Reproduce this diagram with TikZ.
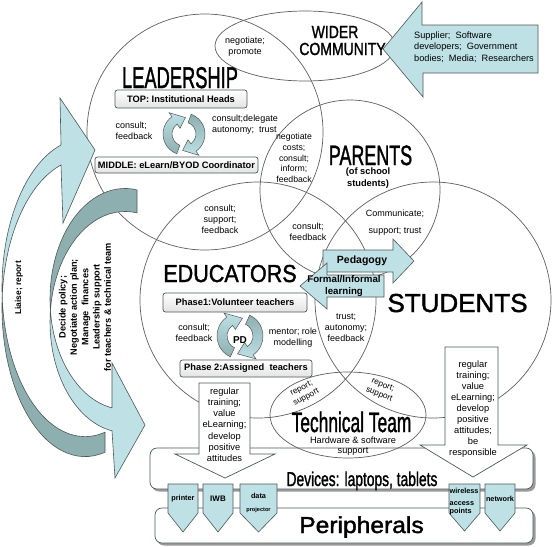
\documentclass[tikz,border=0pt]{standalone}
\usepackage{fontspec}
\setmainfont{Liberation Sans}
\newfontfamily\titlefont[FakeBold=1.6]{Liberation Sans}
\usepackage{graphicx}
\definecolor{tealL}{HTML}{BDE1E5}
\definecolor{tealD}{HTML}{8EAFB0}
\definecolor{edge}{HTML}{4F5859}
\definecolor{ringc}{HTML}{5F5F5F}
\definecolor{shadowc}{HTML}{9A9A9A}
\tikzset{
  ring/.style={draw=ringc, line width=0.7pt},
  blockL/.style={fill=tealL, draw=edge, line width=0.6pt},
  blockD/.style={fill=tealD, draw=edge, line width=0.6pt},
  whitearrow/.style={fill=white, draw=edge, line width=0.7pt},
  shelf/.style={fill=white, draw=edge, line width=0.7pt, rounded corners=7pt},
  cyc/.style={draw=edge, line width=0.5pt},
  tab/.style={fill=tealL, draw=edge, line width=0.6pt},
  tagbox/.style={draw=edge, line width=0.7pt, rounded corners=2.5pt, top color=white,
    bottom color=gray!22, inner sep=0pt, font=\bfseries\fontsize{9.3}{11}\selectfont},
  note/.style={inner sep=0pt, align=center, font=\fontsize{9}{11}\selectfont},
  boldnote/.style={inner sep=0pt, align=center, font=\bfseries\fontsize{9.3}{11.5}\selectfont},
  tabtext/.style={inner sep=0pt, align=left, font=\bfseries\fontsize{7.3}{8.5}\selectfont},
  title/.style={inner sep=0pt, anchor=base}
}
\begin{document}
\begin{tikzpicture}[x=1pt,y=-1pt]
  \useasboundingbox (0,0) rectangle (553,546);
  \fill[white] (0,0) rectangle (553,546);

  % shelves for devices and peripherals
  \fill[shadowc, rounded corners=7pt] (152,450.5) rectangle (535.5,491.5);
  \filldraw[shelf] (150,448) rectangle (533,489);
  \fill[shadowc, rounded corners=7pt] (157,510.5) rectangle (535.5,545.5);
  \filldraw[shelf] (155,508) rectangle (533,543);

  % stakeholder circles
  \draw[ring] (205,132) circle (118);
  \draw[ring] (350,190) circle (90);
  \draw[ring] (258,300) circle (118);
  \draw[ring] (433,300) circle (118);
  \draw[ring] (305,46) ellipse (90 and 35);
  \draw[ring] (348,415) ellipse (78 and 43);

  % outside partners
  \filldraw[blockL] (538,25) -- (422,25) -- (422,2) -- (383,49) -- (423,97) -- (423,73) -- (538,73) -- cycle;

  % curved arrows at the left
  \filldraw[blockD] (2.2,297.6) arc[start angle=176.15, end angle=76.05, x radius=83, y radius=149]
    -- (105,452.2) arc[start angle=76.05, end angle=183.85, x radius=83, y radius=149] -- cycle;
  \filldraw[blockL] (2.2,297.6) arc[start angle=176.15, end angle=253.2, x radius=83, y radius=149]
    -- (60,98) -- (95,150) -- (63,223) -- (61,165)
    arc[start angle=253.2, end angle=183.85, x radius=83, y radius=149] -- cycle;
  \filldraw[blockD] (137,189.9) arc[start angle=279.2, end angle=174.03, x radius=75, y radius=110.5]
    arc[start angle=185.97, end angle=279.2, x radius=75, y radius=110.5] -- cycle;
  \filldraw[blockL] (50.4,310.5) arc[start angle=174.03, end angle=100, x radius=75, y radius=110.5]
    -- (112,363) -- (145,425) -- (115,478) -- (112,430.8)
    arc[start angle=100, end angle=185.97, x radius=75, y radius=110.5] -- cycle;

  % role boxes
  \node[tagbox, minimum width=132, minimum height=18] (topbox) at (181,99) {TOP: Institutional\ Heads};
  \node[tagbox, minimum width=163, minimum height=16] (midbox) at (176.5,165) {MIDDLE: eLearn/BYOD Coordinator};
  \node[tagbox, minimum width=144, minimum height=19] (phaseone) at (235,302.5) {Phase1:Volunteer teachers};
  \node[tagbox, minimum width=132, minimum height=17] (phasetwo) at (246,368.5) {Phase 2:Assigned\ \ teachers};

  % cycle between top and middle
  \begin{scope}[shift={(184,134)}]
    \shadedraw[cyc, top color=tealL, bottom color=tealD] (110:21) arc[start angle=110, end angle=235, radius=21]
      -- (235:26) -- (275:16.5) -- (235:7) -- (235:12) arc[start angle=235, end angle=110, radius=12] -- cycle;
    \shadedraw[cyc, top color=tealD, bottom color=tealL] (290:21) arc[start angle=290, end angle=415, radius=21]
      -- (415:26) -- (455:16.5) -- (415:7) -- (415:12) arc[start angle=415, end angle=290, radius=12] -- cycle;
  \end{scope}
  % cycle between phase 1 and phase 2
  \begin{scope}[shift={(240,336)}]
    \shadedraw[cyc, top color=tealL, bottom color=tealD] (115:23) arc[start angle=115, end angle=235, radius=23]
      -- (235:28) -- (278:18) -- (235:8) -- (235:13) arc[start angle=235, end angle=115, radius=13] -- cycle;
    \shadedraw[cyc, top color=tealD, bottom color=tealL] (295:23) arc[start angle=295, end angle=415, radius=23]
      -- (415:28) -- (458:18) -- (415:8) -- (415:13) arc[start angle=415, end angle=295, radius=13] -- cycle;
  \end{scope}

  % pedagogy arrows
  \filldraw[blockL] (323,250) -- (393,250) -- (393,239) -- (414,261) -- (393,283) -- (393,272) -- (323,272) -- cycle;
  \filldraw[blockL] (384,275) -- (327,275) -- (327,263) -- (300,286) -- (327,309) -- (327,297) -- (384,297) -- cycle;

  % arrows down to the devices
  \filldraw[whitearrow] (199,383) -- (250,383) -- (250,454) -- (275,454) -- (225,478) -- (175,454) -- (199,454) -- cycle;
  \filldraw[whitearrow] (445,347) -- (498,347) -- (498,445) -- (527,445) -- (473,477) -- (420,445) -- (445,445) -- cycle;

  % peripheral tabs
  \filldraw[tab] (168,484) -- (198,484) -- (198,513) -- (183,532) -- (168,513) -- cycle;
  \filldraw[tab] (203,484) -- (233,484) -- (233,513) -- (218,532) -- (203,513) -- cycle;
  \filldraw[tab] (240,484) -- (277,484) -- (277,513) -- (258.5,532) -- (240,513) -- cycle;
  \filldraw[tab] (449,484) -- (480,484) -- (480,513) -- (464.5,531) -- (449,513) -- cycle;
  \filldraw[tab] (485,484) -- (515,484) -- (515,513) -- (500,531) -- (485,513) -- cycle;

  % titles
  \node[title, font=\titlefont\fontsize{30}{30}\selectfont] (lead) at (180,88) {\scalebox{0.61}[1]{LEADERSHIP}};
  \node[title, font=\titlefont\fontsize{17.5}{17.5}\selectfont] (wider) at (335,38) {\scalebox{0.8}[1]{WIDER}};
  \node[title, font=\titlefont\fontsize{17.5}{17.5}\selectfont] (community) at (342.5,55) {\scalebox{0.8}[1]{COMMUNITY}};
  \node[title, font=\titlefont\fontsize{28}{28}\selectfont] (parents) at (370.5,165) {\scalebox{0.64}[1]{PARENTS}};
  \node[title, font=\titlefont\fontsize{24.5}{24.5}\selectfont] (educ) at (230,282) {\scalebox{0.88}[1]{EDUCATORS}};
  \node[title, font=\titlefont\fontsize{26}{26}\selectfont] (stud) at (457.5,312) {STUDENTS};
  \node[title, font=\titlefont\fontsize{28}{28}\selectfont] (tech) at (351.5,432) {\scalebox{0.62}[1]{Technical Team}};
  \node[title, font=\titlefont\fontsize{20}{20}\selectfont] (devices) at (362,486) {\scalebox{0.69}[1]{Devices: laptops, tablets}};
  \node[title, font=\titlefont\fontsize{23}{23}\selectfont] (periph) at (361.5,533) {\scalebox{1.07}[1]{Peripherals}};

  % relation labels
  \node[note] (promote) at (245,47) {negotiate;\\promote};
  \node[note, anchor=west, align=left, font=\fontsize{9.2}{11.5}\selectfont] (partners) at (414,47)
    {Supplier;\ \ Software\\developers;\ \ Government\\bodies;\ \ Media;\ \ Researchers};
  \node[note, align=left] (leadfb) at (134,131) {consult;\\feedback};
  \node[note, align=left] (delegate) at (245,125) {consult;delegate\\autonomy;\ \ trust};
  \node[note, font=\fontsize{8.7}{10.6}\selectfont] (costs) at (294,158) {negotiate\\costs;\\consult;\\inform;\\feedback};
  \node[boldnote] (school) at (368,178) {(of school\\students)};
  \node[note] (edsupport) at (220,219) {consult;\\support;\\feedback};
  \node[note] (edparents) at (308,232) {consult;\\feedback};
  \node[note] (communicate) at (395,223) {Communicate;\\[6pt]support;\ trust};
  \node[boldnote, font=\bfseries\fontsize{10.5}{12}\selectfont] (pedagogy) at (362,261) {Pedagogy};
  \node[boldnote, font=\bfseries\fontsize{9.7}{12}\selectfont] (formal) at (344,286) {Formal/Informal\\learning};
  \node[note] (pdfb) at (194,333) {consult;\\feedback};
  \node[boldnote, font=\bfseries\fontsize{10}{12}\selectfont] (pd) at (240,340) {PD};
  \node[note] (mentor) at (293,338) {mentor;\ role\\modelling};
  \node[note] (autonomy) at (346,328) {trust;\\autonomy;\\feedback};
  \node[note, font=\fontsize{8.3}{10}\selectfont, rotate=28] (reportl) at (304,393) {report;\\support};
  \node[note, font=\fontsize{8.3}{10}\selectfont, rotate=-22] (reportr) at (381,390) {report;\\support};
  \node[note, font=\fontsize{9.2}{10.5}\selectfont] (hardware) at (353,446) {Hardware \& software\\support};
  \node[note, font=\fontsize{9.3}{11.2}\selectfont] (trainl) at (224.5,424.5)
    {regular\\training;\\value\\eLearning;\\develop\\positive\\attitudes};
  \node[note, font=\fontsize{9.3}{11.1}\selectfont] (trainr) at (473,409)
    {regular\\training;\\value\\eLearning;\\develop\\positive\\attitudes;\\be\\responsible};
  \node[boldnote, font=\bfseries\fontsize{8.5}{10}\selectfont, rotate=90] (liaise) at (19,288) {Liaise;\ report};
  \node[boldnote, font=\bfseries\fontsize{9.2}{11.3}\selectfont, rotate=90] (policy) at (85,307)
    {Decide policy;\\Negotiate action plan;\\Manage\ \ finances\\Leadership support\\for teachers \& technical team};

  % peripheral names
  \node[tabtext] (printer) at (183,499) {printer};
  \node[tabtext, font=\bfseries\fontsize{8}{9}\selectfont] (iwb) at (218,499) {IWB};
  \node[tabtext] (data) at (258.5,496) {data};
  \node[tabtext, font=\bfseries\fontsize{5.6}{7}\selectfont] (projector) at (258.5,510) {projector};
  \node[tabtext, anchor=north west] (wireless) at (449.5,488) {wireless\\[3pt]access\\points};
  \node[tabtext] (network) at (500,499) {network};
\end{tikzpicture}
\end{document}
